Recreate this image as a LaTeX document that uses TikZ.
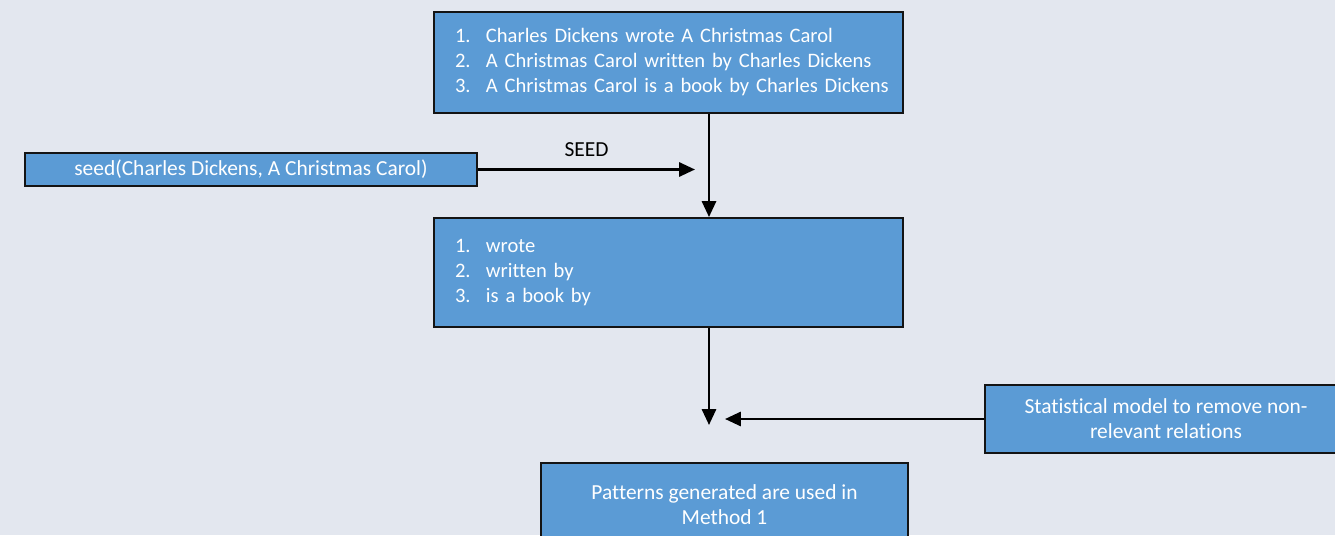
\documentclass[tikz,border=0pt]{standalone}
\usepackage{xcolor}
\usepackage{tikz}
\usepackage{fontspec}
\setmainfont[Ligatures=NoCommon]{Carlito}
\definecolor{pageback}{HTML}{E3E7EF}
\definecolor{boxblue}{HTML}{5B9BD5}
\definecolor{boxedge}{HTML}{141414}
\usetikzlibrary{arrows.meta, positioning, calc}

\begin{document}
\begin{tikzpicture}[
    box/.style={draw=boxedge, fill=boxblue, line width=1.1pt, text=white,
        font=\fontsize{12.2}{14.2}\selectfont, align=center, inner sep=0pt},
    listbox/.style={box, font=\fontsize{11.7}{14.2}\selectfont,
        minimum width=9.38cm, text width=8.54cm, align=left},
    link/.style={draw=black, line width=1.4pt, -{Triangle[length=9pt,width=8pt]}}
]
% Page
\fill[pageback] (0,0) rectangle (26.7,10.7);
\useasboundingbox (0,0) rectangle (26.7,10.7);
\coordinate (spine) at (14.18,0);

% Sentences
\node[listbox, minimum height=2.02cm] (sentences) at (13.37,9.45) {%
\begin{tabular}{@{}p{0.62cm}@{}l@{}}
1. & Charles Dickens wrote A Christmas Carol\\
2. & A Christmas Carol written by Charles Dickens\\
3. & A Christmas Carol is a book by Charles Dickens
\end{tabular}};

% Seed
\node[box, minimum width=9.04cm, minimum height=0.66cm] (seed) at (5.02,7.31)
    {seed(Charles Dickens, A Christmas Carol)};
\coordinate (seedtip) at (13.9,7.31);

% Relations
\node[listbox, minimum height=2.18cm] (relations) at (13.37,5.25) {%
\begin{tabular}{@{}p{0.62cm}@{}l@{}}
1. & wrote\\
2. & written by\\
3. & is a book by
\end{tabular}};
\coordinate (reltip) at (14.18,2.2);

% Statistical model
\node[box, minimum width=7.24cm, minimum height=1.36cm] (model) at (23.32,2.32)
    {Statistical model to remove non-\\relevant relations};
\coordinate (modeltip) at (14.5,2.32);

% Result
\node[box, minimum width=7.34cm, minimum height=1.68cm] (result) at (14.49,0.6)
    {Patterns generated are used in\\Method 1};

% Connectors
\draw[link] (sentences.south -| spine) -- (relations.north -| spine);
\draw[link] (seed.east) -- node[above=3pt, font=\fontsize{12.2}{14.2}\selectfont] {SEED} (seedtip);
\draw[link] (relations.south -| spine) -- (reltip);
\draw[link] (model.west) -- (modeltip);
\end{tikzpicture}
\end{document}
